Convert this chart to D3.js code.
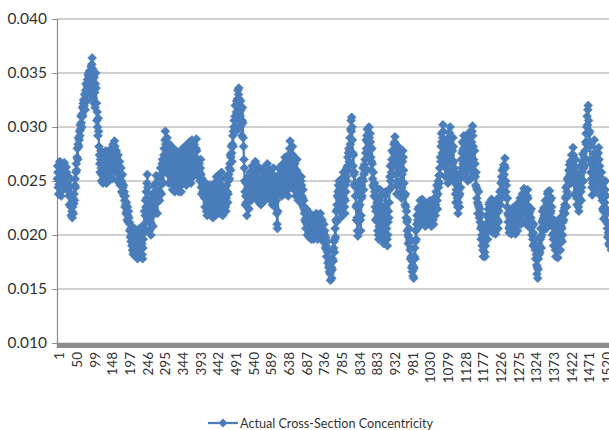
<!DOCTYPE html>
<html>
<head>
<meta charset="utf-8">
<script src="https://cdn.jsdelivr.net/npm/d3@7"></script>
<style>
  html, body { margin: 0; padding: 0; background: #fff; }
  svg { display: block; }
  text { font-family: Lato, "Open Sans", "Liberation Sans", sans-serif; }
</style>
</head>
<body>
<svg id="chart" width="609" height="430"></svg>
<script>
// Concentricity readings, in units of 1e-4 (one reading per sample number)
const concentricity = [
252,264,258,244,238,
247,259,268,262,250,240,236,245,256,266,260,249,243,254,
262,267,258,249,245,252,263,258,248,246,255,250,244,240,
236,228,244,252,238,226,218,230,222,216,226,234,220,229,
238,232,246,252,244,258,266,260,272,280,270,284,290,282,
288,296,292,302,298,310,304,300,312,318,310,322,325,316,
320,330,326,316,334,340,332,324,338,344,336,348,350,342,
346,352,338,330,344,356,348,358,364,354,340,326,334,322,
346,332,318,340,350,336,322,306,314,300,292,308,296,
282,274,266,258,270,278,262,250,256,268,260,248,254,264,
272,260,252,266,278,270,258,248,256,268,276,262,250,258,
266,274,262,254,268,280,276,264,252,260,272,284,278,266,
274,287,282,270,258,266,278,272,260,250,262,274,268,256,
264,268,256,246,254,262,250,240,248,256,244,238,246,236,
240,232,226,236,228,220,230,222,214,226,218,212,222,216,
212,204,210,198,206,194,200,190,198,186,192,182,190,184,
196,206,200,188,180,192,202,196,184,178,188,198,190,
200,206,194,186,180,190,198,204,192,182,178,188,196,202,
210,222,206,218,232,226,240,234,248,256,244,230,238,222,
214,204,218,228,212,200,210,224,236,230,218,208,222,232,
240,246,232,222,236,248,255,244,230,220,234,246,252,238,
246,232,240,252,262,250,238,256,266,270,258,248,262,274,
280,270,288,296,284,272,262,276,290,282,268,256,248,264,
276,284,270,258,248,262,274,268,252,242,256,270,280,264,
252,240,256,268,278,266,254,244,260,272,262,250,240,
254,266,276,268,256,246,240,252,264,274,280,270,258,248,
258,270,282,276,264,252,246,260,272,284,274,262,254,266,
276,286,280,268,256,248,262,274,288,280,266,254,264,278,
284,276,264,256,268,280,289,278,266,258,270,262,254,260,
266,258,250,262,270,256,244,238,252,246,240,250,244,236,
242,234,226,238,248,236,222,230,218,226,240,232,220,228,
236,246,240,228,218,224,234,244,238,226,216,222,232,242,
248,236,224,218,230,242,254,246,232,220,228,240,250,
256,244,230,220,228,240,252,258,246,232,218,226,238,234,
224,232,244,236,226,222,234,246,254,240,230,238,250,256,
262,252,266,274,260,272,282,276,268,284,292,282,296,300,
306,296,310,320,306,296,314,324,312,326,334,320,330,336,
326,314,300,310,324,316,302,292,306,318,304,290,282,270,
262,250,240,228,236,248,230,218,226,242,254,244,232,224,
236,248,258,250,238,232,244,256,264,254,242,250,260,246,
236,248,262,268,256,244,234,240,252,264,258,246,238,230,
238,250,242,232,228,240,252,260,248,236,246,258,262,250,
240,232,244,256,250,238,246,258,266,262,252,242,234,248,
260,252,240,232,244,256,248,236,228,238,250,262,254,242,
234,226,240,254,246,232,220,210,206,222,238,250,262,256,
246,240,252,262,256,244,236,248,258,266,254,242,238,250,
262,272,260,248,240,252,264,270,256,244,236,250,266,274,
280,287,276,264,254,244,256,270,282,274,262,250,242,258,
266,254,244,236,248,260,270,258,246,238,232,242,250,
244,238,232,240,250,254,246,236,228,234,242,226,232,224,
220,214,222,212,206,216,224,210,200,208,218,212,202,198,
206,214,220,210,202,196,204,214,218,208,200,196,210,216,
212,204,198,206,216,220,210,200,196,204,214,218,208,200,
208,216,220,212,202,196,206,214,204,196,194,202,210,200,
204,196,188,198,190,180,186,194,184,174,180,170,176,166,
172,164,158,166,176,170,160,168,178,186,176,188,194,184,
196,206,198,214,222,212,228,236,224,240,246,234,250,
242,232,222,216,230,244,252,240,228,236,248,258,246,234,
226,220,232,246,240,254,262,250,264,272,260,276,280,268,
278,290,284,298,306,296,309,300,288,276,264,274,256,246,
258,248,236,244,226,214,228,216,204,199,212,226,238,250,
240,228,214,204,218,234,246,236,252,262,250,242,256,265,
258,270,262,276,288,280,292,298,286,272,280,294,300,290,
282,294,286,272,260,268,280,266,252,246,258,244,236,248,
240,226,214,222,234,244,230,216,204,212,200,196,208,
220,232,242,236,224,212,204,214,226,218,206,196,192,202,
214,226,236,240,228,216,206,196,190,200,212,222,216,230,
242,254,264,250,244,258,270,278,266,256,264,276,284,272,
286,291,280,268,256,246,238,250,262,274,282,270,258,266,
276,270,262,250,240,234,244,256,268,278,272,260,248,238,
236,228,238,226,216,222,212,204,214,200,192,198,206,194,
196,186,178,188,180,170,176,166,172,162,168,160,170,180,
188,178,194,204,196,210,218,206,214,224,212,220,226,
218,226,232,224,214,210,220,230,233,224,216,212,222,228,
220,212,208,216,224,228,218,210,214,222,230,226,216,212,
220,228,232,222,212,208,216,226,230,222,214,210,218,228,
234,226,218,228,240,236,246,232,224,238,250,244,255,248,
262,256,272,268,282,294,286,276,290,302,296,284,272,264,
276,266,254,262,274,288,282,268,256,248,260,272,286,295,
288,300,292,280,270,260,252,266,278,290,282,268,256,262,
258,248,238,230,242,254,246,234,226,220,230,242,236,
226,238,252,244,258,270,262,276,286,278,266,280,292,284,
270,262,254,266,280,290,284,272,260,250,264,278,292,295,
286,274,262,252,260,272,286,296,301,292,282,270,258,266,
278,266,254,246,258,244,234,242,230,220,228,240,226,216,
224,212,220,206,196,208,200,190,198,186,180,192,204,196,
184,180,190,202,196,210,218,206,196,212,224,216,228,230,
220,212,204,214,226,233,224,214,206,202,210,222,230,226,
216,206,201,210,220,230,233,224,214,206,212,222,228,
232,240,228,236,248,242,254,260,250,240,252,262,265,256,
264,271,262,250,240,246,234,226,234,220,212,218,206,202,
208,216,222,214,206,201,210,220,225,216,208,204,212,220,
214,206,201,210,220,228,222,212,204,210,218,226,230,222,
226,234,224,214,210,220,230,238,232,222,228,236,243,238,
240,232,224,214,210,218,228,236,242,234,222,216,226,220,
222,214,206,216,224,212,200,208,196,190,202,210,198,192,
196,186,178,190,182,172,164,170,160,168,178,186,182,
190,184,196,206,198,188,200,212,222,214,204,216,225,218,
210,220,232,226,214,206,218,230,238,240,228,216,224,236,
241,232,220,210,222,234,226,212,200,208,196,190,202,214,
206,196,186,180,190,202,210,198,188,179,186,196,208,215,
204,194,186,196,208,216,206,194,200,212,222,214,220,225,
228,220,234,244,236,226,240,252,246,236,250,260,254,265,
256,268,258,248,262,274,266,256,270,281,274,260,248,238,
250,262,270,258,246,234,228,240,252,238,226,222,234,
246,256,264,252,240,232,244,258,268,275,262,250,262,272,
264,278,270,286,294,284,300,310,302,316,320,306,294,284,
296,282,270,258,266,252,244,237,248,258,270,262,276,288,
270,260,248,240,252,264,274,268,256,264,276,281,270,258,
264,254,244,236,248,258,244,232,224,234,222,215,226,238,
230,242,250,236,224,212,220,206,198,210,202,192,200,190,
198,210,204,194,186,196,206,214,202,190,196,206,198,188
];

// Sample numbers 1..N, labels every 49 samples
const categories = concentricity.map((_, i) => i + 1);
const labelStep = 49;
const labelValues = categories.filter(c => (c - 1) % labelStep === 0);

// Value axis ticks
const yTicks = [0.010, 0.015, 0.020, 0.025, 0.030, 0.035, 0.040];
const seriesName = "Actual Cross-Section Concentricity";
const seriesColor = "#4a7ebb";

const values = concentricity.map(v => v / 10000);
const data = categories.map((c, i) => ({ c, v: values[i] }));

const svg = d3.select("#chart");

const plotLeft = 57, plotTop = 19, plotBottom = 343;
const step = 0.3605;
const plotRight = plotLeft + categories.length * step;

const x = d3.scaleBand().domain(categories).range([plotLeft, plotRight]).paddingInner(0).paddingOuter(0);
const y = d3.scaleLinear().domain([0.010, 0.040]).range([plotBottom, plotTop]);
const cx = c => x(c) + x.bandwidth() / 2;

// Horizontal gridlines
svg.append("g")
  .selectAll("line")
  .data(yTicks.slice(1))
  .join("line")
  .attr("x1", plotLeft).attr("x2", plotRight)
  .attr("y1", d => y(d)).attr("y2", d => y(d))
  .attr("stroke", "#a2a2a2")
  .attr("stroke-width", 1.2);

// Value axis
const yAxis = svg.append("g")
  .attr("transform", `translate(${plotLeft},0)`)
  .call(d3.axisLeft(y).tickValues(yTicks).tickFormat(d3.format(".3f")).tickSize(5).tickPadding(5));
yAxis.select(".domain").attr("stroke", "#8c8c8c").attr("stroke-width", 1.2);
yAxis.selectAll(".tick line").attr("stroke", "#8c8c8c");
yAxis.selectAll(".tick text")
  .attr("fill", "#333")
  .style("font-size", "15.5px");

// Category axis: one tick per sample, merged into a solid band
const xTickAxis = svg.append("g")
  .attr("transform", `translate(0,${plotBottom})`)
  .call(d3.axisBottom(x).tickSize(5).tickFormat(""));
xTickAxis.select(".domain").attr("stroke", "#8c8c8c").attr("stroke-width", 1.5);
xTickAxis.selectAll(".tick line").attr("stroke", "#8c8c8c").attr("stroke-width", 1);

// Category labels, rotated
const xLabelAxis = svg.append("g")
  .attr("transform", `translate(0,${plotBottom})`)
  .call(d3.axisBottom(x).tickValues(labelValues).tickSize(0).tickPadding(0));
xLabelAxis.select(".domain").remove();
xLabelAxis.selectAll(".tick text")
  .attr("transform", "rotate(-90)")
  .attr("text-anchor", "end")
  .attr("x", -9)
  .attr("y", 2)
  .attr("dy", "0.35em")
  .attr("fill", "#333")
  .style("font-size", "13.5px");

// Series line
const line = d3.line().x(d => cx(d.c)).y(d => y(d.v));
svg.append("path")
  .datum(data)
  .attr("fill", "none")
  .attr("stroke", seriesColor)
  .attr("stroke-width", 2.25)
  .attr("stroke-linejoin", "round")
  .attr("d", line);

// Diamond markers (square rotated 45°)
const diamond = {
  draw(context, size) {
    const r = Math.sqrt(size) / 2;
    context.moveTo(0, -r);
    context.lineTo(r, 0);
    context.lineTo(0, r);
    context.lineTo(-r, 0);
    context.closePath();
  }
};
const marker = d3.symbol().type(diamond).size(81);
svg.append("g")
  .selectAll("path")
  .data(data)
  .join("path")
  .attr("transform", d => `translate(${cx(d.c)},${y(d.v)})`)
  .attr("d", marker)
  .attr("fill", seriesColor)
  .attr("stroke", "#4679b6")
  .attr("stroke-width", 0.5);

// Legend
const legend = svg.append("g").attr("transform", "translate(208,423)");
legend.append("line")
  .attr("x1", 0).attr("x2", 30).attr("y1", 0).attr("y2", 0)
  .attr("stroke", seriesColor).attr("stroke-width", 2.25);
legend.append("path")
  .attr("transform", "translate(15,0)")
  .attr("d", marker)
  .attr("fill", seriesColor);
legend.append("text")
  .attr("x", 32).attr("y", 0)
  .attr("dy", "0.35em")
  .attr("fill", "#333")
  .attr("textLength", 193)
  .attr("lengthAdjust", "spacingAndGlyphs")
  .style("font-size", "14px")
  .text(seriesName);
</script>
</body>
</html>
